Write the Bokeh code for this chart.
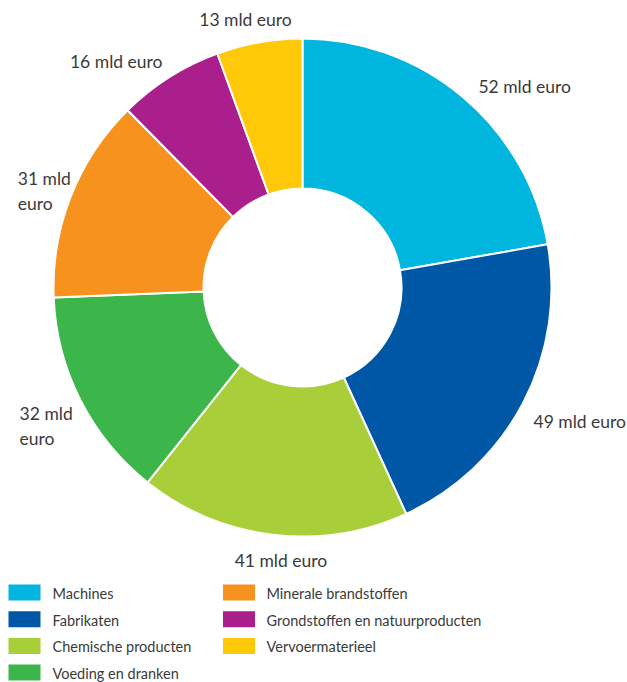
import math
from bokeh.plotting import figure
from bokeh.models import Range1d, ColumnDataSource
from bokeh.core.properties import value
from bokeh.embed import file_html
from bokeh.resources import INLINE

# ---- data ----
categories = ["Machines", "Fabrikaten", "Chemische producten", "Voeding en dranken",
              "Minerale brandstoffen", "Grondstoffen en natuurproducten", "Vervoermaterieel"]
values = [52, 49, 41, 32, 31, 16, 13]
label_texts = ["52 mld euro", "49 mld euro", "41 mld euro", "32 mld\neuro",
               "31 mld\neuro", "16 mld euro", "13 mld euro"]

# ---- style / layout ----
colors = ["#00B5DE", "#0057A6", "#A8CE3A", "#3CB54B", "#F7921E", "#AA1F8C", "#FFC90A"]
W, H = 627, 682
cx, cy = 302, 395          # donut centre (data units = pixels)
r_out, r_in = 249, 99
r_lab = 262
# per-label alignment and nudges (screen px, dy positive = down)
lab_align = ["left", "left", "center", "left", "left", "right", "center"]
lab_nudge = [(7.5, 0), (-1, 12), (10, 13), (-49.3, 19.5), (-41, 0), (0, -4.5), (-11.5, -10)]
FONT = "Lato"
TXT = "#3a3a3a"

total = sum(values)
starts, ends, mids = [], [], []
cum = 0
for v in values:
    a0 = math.pi / 2 - cum / total * 2 * math.pi
    cum += v
    a1 = math.pi / 2 - cum / total * 2 * math.pi
    starts.append(a0); ends.append(a1); mids.append((a0 + a1) / 2)

p = figure(width=W, height=H, output_backend="svg", toolbar_location=None,
           x_range=Range1d(0, W), y_range=Range1d(0, H), min_border=0)
p.axis.visible = False
p.grid.visible = False
p.outline_line_color = None
p.background_fill_color = "white"

src = ColumnDataSource(dict(start=starts, end=ends, color=colors))
p.annular_wedge(x=cx, y=cy, inner_radius=r_in, outer_radius=r_out,
                start_angle="start", end_angle="end", direction="clock",
                fill_color="color", line_color="white", line_width=2, source=src)

# value labels
lx, ly = [], []
for m, (dx, dy) in zip(mids, lab_nudge):
    lx.append(cx + r_lab * math.cos(m) + dx)
    ly.append(cy + r_lab * math.sin(m) - dy)
for i in range(len(values)):
    p.text(x=[lx[i]], y=[ly[i]], text=[label_texts[i]], text_align=lab_align[i],
           text_baseline="middle", text_font=value(FONT), text_font_size="17.5px",
           text_color=TXT, text_line_height=1.2)

# legend (manual, two columns)
sw_x, sw_y, tx = [], [], []
for i in range(len(categories)):
    col, row = i // 4, i % 4
    sw_x.append(24 + col * 214.5)
    sw_y.append(90 - row * 26.7)
    tx.append(52 + col * 214)
p.rect(x=sw_x, y=sw_y, width=32, height=16, fill_color=colors, line_color=None)
p.text(x=tx, y=[y - 1 for y in sw_y], text=categories, text_align="left",
       text_baseline="middle", text_font=value(FONT), text_font_size="14.5px",
       text_color=TXT)

open("out.html", "w").write(file_html(p, INLINE))
